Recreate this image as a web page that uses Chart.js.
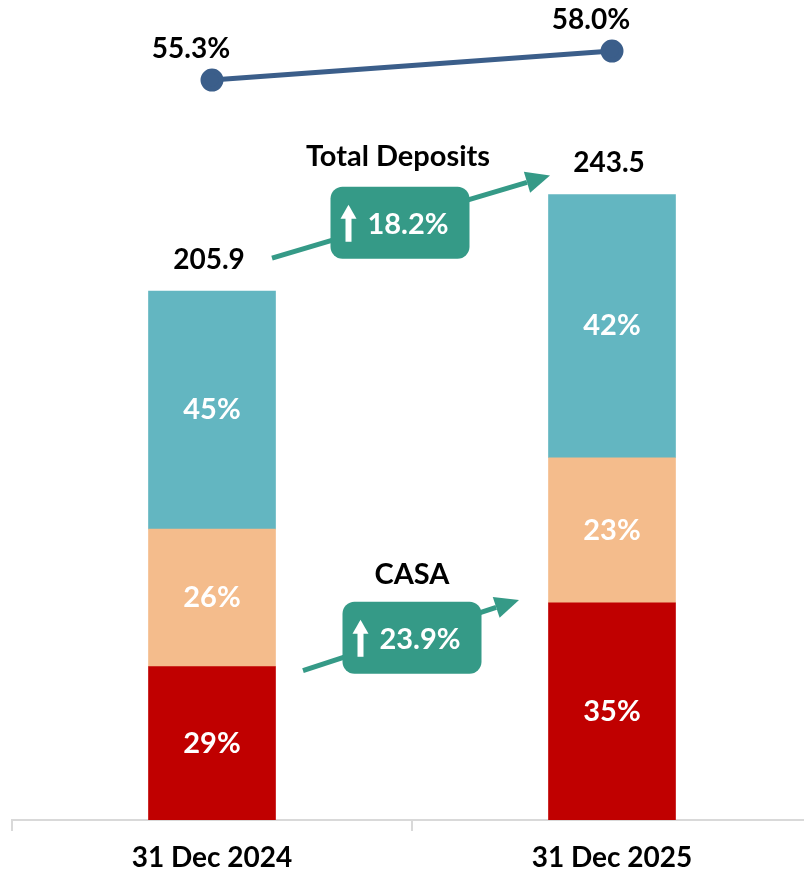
<!DOCTYPE html>
<html>
<head>
<meta charset="utf-8">
<script src="https://cdn.jsdelivr.net/npm/chart.js@4.4.1/dist/chart.umd.min.js"></script>
<style>
  html, body { margin: 0; padding: 0; overflow: hidden; background: #fff; }
  #myChart { display: block; }
</style>
</head>
<body>
<canvas id="myChart" width="820" height="875"></canvas>
<script>
// data
const categories = ['31 Dec 2024', '31 Dec 2025'];
const currentValues = [59.7, 84.5];   // red (bottom)
const savingsValues = [53.5, 56.5];   // orange (middle)
const termValues = [92.7, 102.5];     // teal (top)
const currentLabels = ['29%', '35%'];
const savingsLabels = ['26%', '23%'];
const termLabels = ['45%', '42%'];
const totals = [205.9, 243.5];
const casaRatio = [55.3, 58.0];
const depositGrowth = '18.2%';
const casaGrowth = '23.9%';

const FONT = 'Lato, "Open Sans", sans-serif';
const GREEN = '#359A87';

function drawArrow(ctx, x1, y1, x2, y2){
    const ang = Math.atan2(y2 - y1, x2 - x1);
    const head = 24, half = 11;
    const bx = x2 - head * Math.cos(ang), by = y2 - head * Math.sin(ang);
    ctx.save();
    ctx.strokeStyle = GREEN;
    ctx.fillStyle = GREEN;
    ctx.lineWidth = 5;
    ctx.beginPath();
    ctx.moveTo(x1, y1);
    ctx.lineTo(bx, by);
    ctx.stroke();
    ctx.beginPath();
    ctx.moveTo(x2, y2);
    ctx.lineTo(bx + half * Math.sin(ang), by - half * Math.cos(ang));
    ctx.lineTo(bx - half * Math.sin(ang), by + half * Math.cos(ang));
    ctx.closePath();
    ctx.fill();
    ctx.restore();
}

function drawBadge(ctx, cx, cy, w, h, text){
    ctx.save();
    ctx.fillStyle = GREEN;
    ctx.beginPath();
    ctx.roundRect(cx - w / 2, cy - h / 2, w, h, 12);
    ctx.fill();
    // small up arrow
    const ax = cx - w / 2 + 18, top = cy - 18, bottom = cy + 19;
    ctx.fillStyle = '#fff';
    ctx.fillRect(ax - 3, top + 12, 6, bottom - top - 12);
    ctx.beginPath();
    ctx.moveTo(ax, top);
    ctx.lineTo(ax - 8, top + 14);
    ctx.lineTo(ax + 8, top + 14);
    ctx.closePath();
    ctx.fill();
    ctx.font = 'bold 29px ' + FONT;
    ctx.textAlign = 'center';
    ctx.textBaseline = 'middle';
    ctx.fillText(text, cx + 8, cy + 2);
    ctx.restore();
}

const labelPlugin = {
    id: 'labels',
    afterDatasetsDraw(chart){
        const ctx = chart.ctx;
        const ys = chart.scales.y;
        const xs = chart.scales.x;
        ctx.save();
        ctx.textAlign = 'center';
        ctx.textBaseline = 'middle';
        ctx.font = 'bold 29px ' + FONT;
        ctx.fillStyle = '#fff';
        const segLabels = [currentLabels, savingsLabels, termLabels];
        for (let d = 0; d < 3; d++){
            chart.getDatasetMeta(d).data.forEach((bar, i) => {
                ctx.fillText(segLabels[d][i], bar.x, (bar.y + bar.base) / 2);
            });
        }
        ctx.font = 'bold 28px ' + FONT;
        ctx.fillStyle = '#000';
        totals.forEach((t, i) => {
            ctx.fillText(t.toFixed(1), xs.getPixelForValue(i) - 3, ys.getPixelForValue(t) - 31);
        });
        chart.getDatasetMeta(3).data.forEach((pt, i) => {
            ctx.fillText(casaRatio[i].toFixed(1) + '%', pt.x - 21, pt.y - 31);
        });

        // growth annotations
        const x0 = xs.getPixelForValue(0), x1 = xs.getPixelForValue(1);
        const top0 = ys.getPixelForValue(totals[0]), top1 = ys.getPixelForValue(totals[1]);
        drawArrow(ctx, x0 + 60, top0 - 33, x1 - 62, top1 - 19);
        drawBadge(ctx, (x0 + x1) / 2 - 12, (top0 + top1) / 2 - 20, 139, 72, depositGrowth);
        ctx.fillStyle = '#000';
        ctx.font = 'bold 29px ' + FONT;
        ctx.fillText('Total Deposits', (x0 + x1) / 2 - 14, (top0 + top1) / 2 - 86);

        const red0 = ys.getPixelForValue(currentValues[0]), red1 = ys.getPixelForValue(currentValues[1]);
        drawArrow(ctx, x0 + 91, red0 + 4, x1 - 93, red1 - 3);
        drawBadge(ctx, (x0 + x1) / 2, (red0 + red1) / 2 + 3, 139, 72, casaGrowth);
        ctx.fillStyle = '#000';
        ctx.font = 'bold 29px ' + FONT;
        ctx.fillText('CASA', (x0 + x1) / 2, (red0 + red1) / 2 - 60);
        ctx.restore();
    }
};

const ctx = document.getElementById('myChart');
new Chart(ctx, {
    type: 'bar',
    data: {
        labels: categories,
        datasets: [
            { label: 'Current', data: currentValues, backgroundColor: '#C00000', stack: 's', order: 2 },
            { label: 'Savings', data: savingsValues, backgroundColor: '#F4BC8C', stack: 's', order: 2 },
            { label: 'Term', data: termValues, backgroundColor: '#63B6C1', stack: 's', order: 2 },
            {
                type: 'line', label: 'CASA ratio', data: casaRatio, yAxisID: 'y2', order: 1,
                borderColor: '#3B5E8A', backgroundColor: '#3B5E8A', borderWidth: 5,
                pointRadius: 9, pointHoverRadius: 9
            }
        ]
    },
    options: {
        responsive: false,
        animation: false,
        layout: { autoPadding: false, padding: { left: 12, right: 8, top: 0, bottom: 0 } },
        datasets: { bar: { barThickness: 127, borderWidth: 0 } },
        plugins: { legend: { display: false }, tooltip: { enabled: false } },
        scales: {
            x: {
                stacked: true,
                border: { display: true, color: '#D9D9D9', width: 2 },
                grid: { offset: true, drawOnChartArea: false, drawTicks: true, tickLength: 11, color: '#D9D9D9', lineWidth: 2 },
                ticks: { color: '#000', padding: 10, font: { family: FONT, size: 28, weight: 'bold' } },
                afterFit(scale){
                    scale.height = 55;
                    scale.paddingLeft = 0;
                    scale.paddingRight = 0;
                }
            },
            y: { stacked: true, display: false, min: 0, max: 319.2 },
            y2: { display: false, min: -13.6, max: 62.75 }
        }
    },
    plugins: [labelPlugin]
});
</script>
</body>
</html>
